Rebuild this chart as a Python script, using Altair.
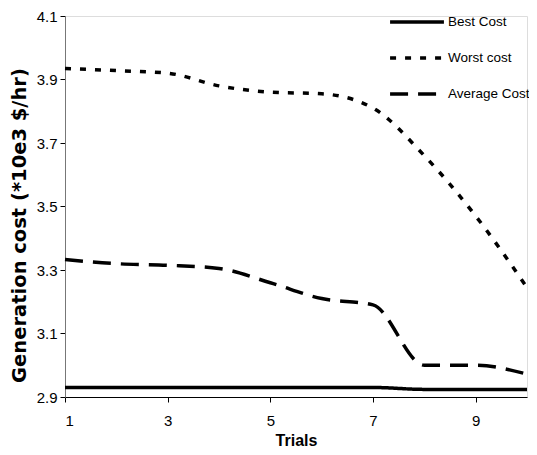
import altair as alt
import pandas as pd

trials = [1, 2, 3, 4, 5, 6, 7, 8, 9, 10]
best_cost = [2.93, 2.93, 2.93, 2.93, 2.93, 2.93, 2.93, 2.924, 2.924, 2.924]
worst_cost = [3.935, 3.928, 3.92, 3.88, 3.86, 3.855, 3.81, 3.66, 3.47, 3.245]
average_cost = [3.333, 3.32, 3.315, 3.305, 3.26, 3.21, 3.19, 3.0, 3.0, 2.972]
series = ["Best Cost", "Worst cost", "Average Cost"]

rows = []
for name, vals in zip(series, [best_cost, worst_cost, average_cost]):
    for t, v in zip(trials, vals):
        rows.append({"Trial": t, "Cost": v, "Series": name})
df = pd.DataFrame(rows)

FONT = "Liberation Sans, Arial"

chart = alt.Chart(df).mark_line(interpolate="monotone", strokeWidth=3.5, color="black").encode(
    x=alt.X("Trial:Q", scale=alt.Scale(domain=[1, 10], nice=False),
            axis=alt.Axis(values=[1, 3, 5, 7, 9], title="Trials", grid=False,
                          tickSize=5, labelPadding=11,
                          titleY=43, titleBaseline="middle",
                          labelFontSize=15, titleFontSize=16, titleFontWeight="bold",
                          titleFont=FONT, labelFont=FONT,
                          domainColor="black", tickColor="black",
                          labelColor="black", titleColor="black")),
    y=alt.Y("Cost:Q", scale=alt.Scale(domain=[2.9, 4.1], nice=False, zero=False),
            axis=alt.Axis(values=[2.9, 3.1, 3.3, 3.5, 3.7, 3.9, 4.1], format=".1f",
                          title="Generation cost (*10e3 $/hr)", grid=False,
                          tickSize=5, labelPadding=3,
                          titleX=-46, titleY=209, titleBaseline="middle", titleAlign="center",
                          titleAngle=270,
                          labelFontSize=15, titleFontSize=19.5, titleFontWeight="bold",
                          titleFont="DejaVu Sans", labelFont=FONT,
                          domainColor="#777777", tickColor="black",
                          labelColor="black", titleColor="black")),
    strokeDash=alt.StrokeDash("Series:N", sort=series,
                              scale=alt.Scale(domain=series, range=[[1, 0], [6, 9], [18, 10]]),
                              legend=alt.Legend(title=None, orient="none", legendX=323, legendY=-23,
                                                symbolType="stroke", symbolStrokeWidth=3.5,
                                                symbolStrokeColor="black", symbolSize=2900,
                                                labelFontSize=13.5, labelFont=FONT,
                                                labelColor="black", labelOffset=2,
                                                rowPadding=0)),
).properties(
    width=462, height=381,
    autosize=alt.AutoSizeParams(type="none"),
    padding={"left": 57, "top": 8, "right": 2, "bottom": 50},
).configure_view(stroke=None).configure(background="white")

chart.save("out.html", embed_options={"renderer": "svg", "actions": False})
